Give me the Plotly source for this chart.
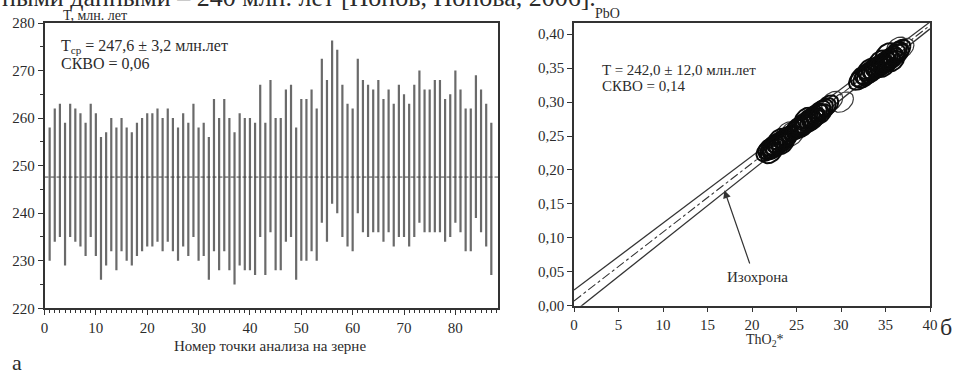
import numpy as np
import plotly.graph_objects as go

W, H = 954, 375

# ---------------- data: panel a ----------------
point_no = list(range(1, 88))
t_high = [258, 262, 263, 259, 263, 262, 261, 259, 263, 261,
          256, 257, 260, 258, 260, 258, 257, 259, 260, 261,
          261, 262, 260, 262, 260, 258, 261, 259, 263, 258,
          259, 256, 264, 260, 264, 260, 257, 261, 260, 260,
          259, 267, 259, 268, 260, 260, 266, 267, 258, 264,
          264, 266, 262, 272.5, 268, 276.3, 274.4, 267, 263, 262,
          272.5, 268, 267, 266, 268, 264, 266, 263, 267, 265,
          263, 267, 270, 266, 266, 268, 268, 264, 265, 270,
          266, 262, 262, 269, 266, 263, 259]
t_low = [230, 234, 235, 229, 235, 234, 233, 231, 235, 231,
         226, 229, 232, 228, 232, 230, 229, 231, 232, 233,
         233, 234, 232, 234, 232, 230, 233, 231, 235, 230,
         231, 226, 232, 228, 232, 228, 225, 229, 228, 228,
         227, 235, 227, 236, 228, 228, 234, 235, 226, 230,
         230, 232, 230, 238, 234, 242, 240, 235, 233, 232,
         240, 236, 235, 236, 236, 234, 236, 233, 235, 235,
         233, 235, 238, 236, 236, 236, 236, 234, 235, 238,
         236, 232, 232, 239, 236, 233, 227]
t_mean = 247.6
t_ticks = [220, 230, 240, 250, 260, 270, 280]
n_ticks = [0, 10, 20, 30, 40, 50, 60, 70, 80]

# ---------------- data: panel b ----------------
ell_tho2 = [21.7, 21.9, 22.1, 22.3, 22.4, 22.6, 22.8, 22.9, 23.1, 23.3, 23.4, 23.6, 23.8, 24.0, 22.2, 23.0, 22.5, 23.5,
            24.9, 25.1, 25.3, 25.5, 25.7, 25.9, 26.1, 26.2, 26.4, 26.6, 26.8, 27.0, 27.2, 27.4, 27.6, 27.9, 28.2, 28.5, 26.0,
            25.6, 26.9, 27.7,
            32.1, 32.3, 32.6, 32.8, 33.0, 33.2, 33.4, 33.6, 33.8, 34.0, 34.2, 34.4, 34.6, 34.8, 35.0, 35.2, 35.4, 35.6,
            35.8, 36.0, 36.2, 36.4, 36.6, 35.1, 34.3, 33.1, 34.9, 35.9]
ell_pbo = [0.228, 0.232, 0.230, 0.236, 0.231, 0.238, 0.235, 0.241, 0.239, 0.244, 0.240, 0.247, 0.245, 0.250, 0.225, 0.246, 0.233, 0.238,
           0.259, 0.263, 0.261, 0.266, 0.263, 0.270, 0.268, 0.273, 0.276, 0.271, 0.279, 0.276, 0.283, 0.281, 0.287, 0.289, 0.291, 0.295, 0.277,
           0.268, 0.274, 0.282,
           0.333, 0.338, 0.336, 0.342, 0.340, 0.346, 0.343, 0.350, 0.347, 0.353, 0.350, 0.356, 0.353, 0.360, 0.357, 0.363, 0.360, 0.367,
           0.364, 0.370, 0.374, 0.371, 0.377, 0.372, 0.361, 0.349, 0.352, 0.360]
faint_tho2 = [24.4, 23.9, 24.6, 30.2, 29.0, 36.3, 37.0]
faint_pbo = [0.257, 0.256, 0.250, 0.300, 0.301, 0.381, 0.379]

iso_x = [0, 40]
iso_center = [0.007, 0.413]
iso_upper = [0.023, 0.418]
iso_lower = [-0.009, 0.408]

pbo_ticks = [0.00, 0.05, 0.10, 0.15, 0.20, 0.25, 0.30, 0.35, 0.40]
tho2_ticks = [0, 5, 10, 15, 20, 25, 30, 35, 40]

SERIF = "Liberation Serif, Times New Roman, serif"
TXT = "#2b2b2b"


def fx(px):
    return px / W


def fy(py):
    return 1 - py / H


fig = go.Figure()

# bars of panel a
bx, by = [], []
for n, lo, hi in zip(point_no, t_low, t_high):
    bx += [n, n, None]
    by += [lo, hi, None]
fig.add_trace(go.Scatter(x=bx, y=by, mode="lines", line=dict(color="#6a6a6a", width=2.2),
                         xaxis="x", yaxis="y", hoverinfo="skip", showlegend=False))
# mean line
fig.add_trace(go.Scatter(x=[0, 88.3], y=[t_mean, t_mean], mode="lines",
                         line=dict(color="#444", width=1, dash="4px,2px"),
                         xaxis="x", yaxis="y", hoverinfo="skip", showlegend=False))

# isochron lines
fig.add_trace(go.Scatter(x=iso_x, y=iso_upper, mode="lines", line=dict(color="#333", width=1.3),
                         xaxis="x2", yaxis="y2", hoverinfo="skip", showlegend=False))
fig.add_trace(go.Scatter(x=iso_x, y=iso_lower, mode="lines", line=dict(color="#333", width=1.3),
                         xaxis="x2", yaxis="y2", hoverinfo="skip", showlegend=False))
fig.add_trace(go.Scatter(x=iso_x, y=iso_center, mode="lines", line=dict(color="#333", width=1.1, dash="dashdot"),
                         xaxis="x2", yaxis="y2", hoverinfo="skip", showlegend=False))

# error ellipses
t = np.linspace(0, 2 * np.pi, 48)
ex, ey, rho = 1.2, 0.0150, 0.35


def ellipses(cxs, cys):
    xs, ys = [], []
    for cx, cy in zip(cxs, cys):
        xs += list(cx + ex * np.cos(t)) + [None]
        ys += list(cy + ey * (rho * np.cos(t) + np.sqrt(1 - rho ** 2) * np.sin(t))) + [None]
    return xs, ys


fxs, fys = ellipses(faint_tho2, faint_pbo)
fig.add_trace(go.Scatter(x=fxs, y=fys, mode="lines", line=dict(color="#3a3a3a", width=1.2),
                         xaxis="x2", yaxis="y2", hoverinfo="skip", showlegend=False))
exs, eys = ellipses(ell_tho2, ell_pbo)
fig.add_trace(go.Scatter(x=exs, y=eys, mode="lines", line=dict(color="#0a0a0a", width=2.0),
                         xaxis="x2", yaxis="y2", hoverinfo="skip", showlegend=False))

axis_common = dict(showgrid=False, zeroline=False, showline=True, linecolor="#333", linewidth=1.5,
                   mirror=True, ticks="outside", ticklen=5, tickwidth=1.2, tickcolor="#333",
                   tickfont=dict(family=SERIF, size=15, color=TXT))

fig.update_layout(
    width=W, height=H, margin=dict(l=0, r=0, t=0, b=0, autoexpand=False),
    paper_bgcolor="white", plot_bgcolor="white", showlegend=False,
    xaxis=dict(domain=[fx(44.5), fx(498)], range=[0, 88.3], tickvals=n_ticks, anchor="y",
               minor=dict(dtick=1, ticks="outside", ticklen=3, tickcolor="#333"), **axis_common),
    yaxis=dict(domain=[fy(308.3), fy(23)], range=[220, 280], tickvals=t_ticks, anchor="x",
               minor=dict(dtick=5, ticks="outside", ticklen=3, tickcolor="#333"), **axis_common),
    xaxis2=dict(domain=[fx(574), fx(930)], range=[0, 40], tickvals=tho2_ticks, anchor="y2", **axis_common),
    yaxis2=dict(domain=[fy(305.7), fy(22.7)], range=[0, 0.417], tickvals=pbo_ticks,
                ticktext=[f"{v:.2f}".replace(".", ",") for v in pbo_ticks], anchor="x2", **axis_common),
)


def txt(text, x, y, size, xanchor="left", **kw):
    fig.add_annotation(text=text, x=fx(x), y=fy(y), xref="paper", yref="paper", showarrow=False,
                       xanchor=xanchor, yanchor="middle", font=dict(family=SERIF, size=size, color=TXT), **kw)


txt("ными данными – 240 млн. лет [Попов, Попова, 2006].", 0, -2, 26)
txt("T, млн. лет", 95, 16, 14, xanchor="center")
txt("T<sub>ср</sub> = 247,6 ± 3,2 млн.лет", 59, 47, 16)
txt("СКВО = 0,06", 59, 64, 16)
txt("Номер точки анализа на зерне", 270, 346, 15, xanchor="center")
txt("а", 17, 362, 22, xanchor="center")

txt("PbO", 607, 14, 14, xanchor="center")
txt("ThO<sub>2</sub>*", 765, 340, 14, xanchor="center")
txt("T = 242,0 ± 12,0 млн.лет", 600, 70, 15)
txt("СКВО = 0,14", 600, 86, 15)
txt("б", 946, 327, 24, xanchor="center")

# isochron arrow and label
fig.add_annotation(x=16.9, y=0.170, ax=19.8, ay=0.060, xref="x2", yref="y2", axref="x2", ayref="y2",
                   text="", showarrow=True, arrowhead=2, arrowsize=1.3, arrowwidth=1.2, arrowcolor="#333")
fig.add_annotation(text="Изохрона", x=20.6, y=0.042, xref="x2", yref="y2", showarrow=False,
                   xanchor="center", yanchor="middle", font=dict(family=SERIF, size=15, color=TXT))

fig.write_html("out.html", config={"displayModeBar": False},
               post_script="document.body.style.margin='0';document.body.style.overflow='hidden';")
